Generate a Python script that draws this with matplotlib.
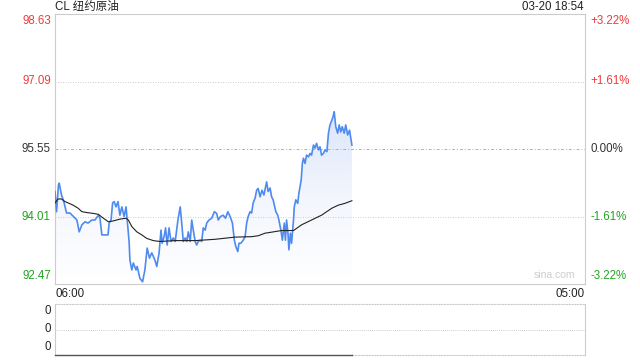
import numpy as np
import matplotlib.pyplot as plt
from matplotlib.colors import LinearSegmentedColormap

plt.rcParams['font.family'] = ['Liberation Sans', 'Noto Sans CJK SC', 'DejaVu Sans']

# minutes after 06:00
t = [0, 4, 9, 11, 17, 23, 30, 39, 48, 57, 63, 70, 78, 86, 96, 104, 113, 117, 122, 130,
     138, 141, 146, 150, 154, 159, 164, 169, 174, 180, 185, 188, 193, 195, 200, 204, 211, 214,
     221, 228, 234, 240, 246, 252, 260, 265, 271, 276, 279, 284, 288, 292, 297, 302, 308, 313,
     320, 323, 326, 330, 334, 339, 343, 347, 352, 356, 360, 365, 369, 373, 378, 382, 386, 391,
     395, 401, 408, 415, 421, 425, 431, 438, 444, 450, 456, 462, 467, 471, 476, 479, 484, 490,
     495, 499, 503, 508, 512, 516, 521, 525, 529, 534, 539, 544, 551, 555, 560, 564, 568, 575,
     580, 583, 589, 592, 597, 600, 603, 607, 609, 613, 616, 621, 623, 627, 632, 635, 641, 644,
     647, 651, 655, 660, 664, 668, 673, 677, 681, 686, 690, 694, 699, 703, 708, 712, 716, 721,
     724, 727, 731, 736, 740, 744, 748, 753, 757, 762, 767, 773]
price = [94.58, 94.12, 94.73, 94.77, 94.50, 94.35, 94.09, 94.09, 94.01, 93.93, 93.66, 93.82,
         93.89, 93.86, 93.93, 93.93, 94.04, 93.98, 93.59, 93.59, 93.59, 93.86, 93.93, 94.32,
         94.35, 94.23, 94.35, 94.04, 94.23, 94.01, 94.23, 93.93, 93.43, 93.02, 92.79, 92.95,
         92.79, 92.87, 92.60, 92.52, 92.79, 93.29, 93.06, 93.18, 93.02, 92.87, 93.18, 93.70,
         93.40, 93.55, 93.75, 93.36, 93.75, 93.44, 93.52, 93.44, 93.93, 94.08, 94.23, 93.86,
         93.44, 93.52, 93.44, 93.66, 93.44, 93.93, 93.70, 93.44, 93.36, 93.44, 93.47, 93.44,
         93.75, 93.70, 93.86, 93.93, 93.97, 94.12, 94.08, 93.93, 94.01, 94.04, 93.97, 94.12,
         94.01, 93.86, 93.47, 93.32, 93.21, 93.40, 93.40, 93.47, 93.55, 93.86, 94.01, 94.12,
         94.09, 94.32, 94.43, 94.61, 94.65, 94.46, 94.61, 94.50, 94.80, 94.58, 94.66, 94.46,
         94.39, 94.12, 94.04, 93.93, 93.66, 93.47, 93.86, 93.47, 93.93, 93.59, 93.25, 93.63,
         93.40, 93.93, 94.23, 94.39, 94.31, 94.54, 94.84, 95.22, 95.34, 95.22, 95.41, 95.37,
         95.45, 95.41, 95.64, 95.57, 95.68, 95.53, 95.60, 95.41, 95.45, 95.53, 95.49, 95.91,
         96.10, 96.21, 96.29, 96.40, 96.06, 95.91, 96.10, 95.94, 96.06, 95.91, 96.10, 95.87,
         95.98, 95.64]

t_avg = [0, 8, 17, 26, 34, 47, 60, 70, 83, 100, 113, 126, 139, 152, 169, 185, 191, 200, 213,
         226, 239, 256, 273, 312, 365, 417, 469, 512, 529, 547, 555, 590, 621, 642, 668, 694,
         721, 738, 755, 773]
avg = [94.32, 94.41, 94.41, 94.35, 94.32, 94.27, 94.20, 94.12, 94.10, 94.08, 94.06, 93.97,
       93.89, 93.91, 93.95, 93.97, 93.93, 93.78, 93.66, 93.59, 93.51, 93.46, 93.44, 93.46,
       93.46, 93.49, 93.54, 93.55, 93.57, 93.63, 93.64, 93.69, 93.69, 93.82, 93.93, 94.04,
       94.20, 94.27, 94.31, 94.37]

prev_close = 95.55
y_ticks = [98.63, 97.09, 95.55, 94.01, 92.47]
pct_labels = ['+3.22%', '+1.61%', '0.00%', '-1.61%', '-3.22%']
tick_colors = ['#f03a3a', '#f03a3a', '#333333', '#21a321', '#21a321']

blue = '#4f8bef'
grid_c = '#bbbbbb'
frame_c = '#cccccc'

fig = plt.figure(figsize=(6.4, 3.6), dpi=100)
ax = fig.add_axes([55 / 640, 1 - 284 / 360, 530 / 640, 270 / 360])
ax.set_xlim(0, 1380)
ax.set_ylim(92.47, 98.63)

# gradient fill under the price line
poly = ax.fill_between(t, price, 92.47, color='none', lw=0)
cmap = LinearSegmentedColormap.from_list('fade', ['#ffffff', '#f3f6fd', '#dbe6fa'])
grad = np.linspace(0, 1, 256).reshape(-1, 1)
im = ax.imshow(grad, cmap=cmap, aspect='auto', origin='lower',
               extent=[0, 1380, 92.47, max(price)], zorder=1)
im.set_clip_path(poly.get_paths()[0], transform=ax.transData)

ax.plot(t, price, color=blue, lw=1.2, zorder=3)
ax.plot(t_avg, avg, color='#222222', lw=0.8, zorder=4)

for v in [97.09, 94.01]:
    ax.axhline(v, color=grid_c, lw=0.6, ls=(0, (1, 2)), zorder=2)
ax.axhline(prev_close, color='#b0b0b0', lw=0.7, ls=(0, (3, 2, 1, 2)), zorder=2)

ax.set_xticks([])
ax.set_yticks([])
for s in ax.spines.values():
    s.set_color(frame_c)
    s.set_linewidth(0.8)

fs = 8.3
for i, (v, lab, c) in enumerate(zip(y_ticks, pct_labels, tick_colors)):
    off = 0
    if i == 0:
        off = -5
    elif i == len(y_ticks) - 1:
        off = 6
    ax.annotate(f'{v:.2f}', (0, v), xycoords=('axes fraction', 'data'),
                xytext=(-3, off), textcoords='offset points', ha='right', va='center',
                color=c, fontsize=fs)
    ax.annotate(lab, (1, v), xycoords=('axes fraction', 'data'),
                xytext=(4, off), textcoords='offset points', ha='left', va='center',
                color=c, fontsize=fs)

fig.text(55 / 640, 1 - 7 / 360, 'CL 纽约原油', ha='left', va='center', fontsize=fs, color='#222222')
fig.text(584 / 640, 1 - 7 / 360, '03-20 18:54', ha='right', va='center', fontsize=fs, color='#222222')
fig.text(55 / 640, 1 - 294 / 360, '06:00', ha='left', va='center', fontsize=fs, color='#222222')
fig.text(585 / 640, 1 - 294 / 360, '05:00', ha='right', va='center', fontsize=fs, color='#222222')
ax.text(0.943, 0.015, 'sina.com', transform=ax.transAxes, ha='center', va='bottom',
        fontsize=7.5, color='#cccccc')

# volume panel
vol_t = [0, 773]
vol = [0, 0]
ax2 = fig.add_axes([55 / 640, 1 - 355 / 360, 530 / 640, 51 / 360])
ax2.set_xlim(0, 1380)
ax2.set_ylim(0, 1)
ax2.plot(vol_t, vol, color='#555555', lw=1.0, clip_on=False, zorder=3)
ax2.axhline(0.5, color=grid_c, lw=0.6, ls=(0, (1, 1.5)))
ax2.set_xticks([])
ax2.set_yticks([])
for k, s in ax2.spines.items():
    s.set_color(frame_c)
    s.set_linewidth(0.8)
ax2.spines['top'].set_linestyle((0, (1, 1.5)))
ax2.spines['bottom'].set_linestyle((0, (1, 1.5)))
for yy in [1 - 7 / 51, 0.5, 8 / 51]:
    ax2.text(-0.007, yy, '0', transform=ax2.transAxes, ha='right', va='center',
             fontsize=fs, color='#222222')

fig.savefig('out.png', dpi=100)
